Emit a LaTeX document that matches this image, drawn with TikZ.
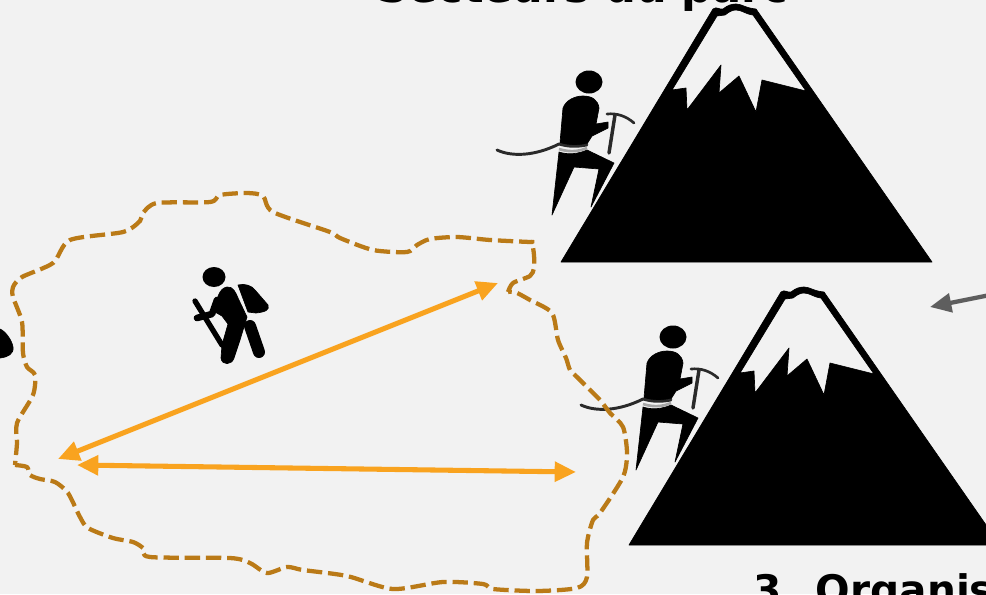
\documentclass[tikz,border=0pt]{standalone}
\usepackage{fontspec}
\setmainfont{DejaVu Sans}
\usetikzlibrary{arrows.meta}
\definecolor{bgc}{HTML}{F2F2F2}
\definecolor{trailc}{HTML}{BA7A17}
\definecolor{arrowc}{HTML}{F9A31F}
\definecolor{greyc}{HTML}{5E5E5E}
\definecolor{ropec}{HTML}{2A2A2A}
\tikzset{
  toptitle/.style={font=\bfseries\fontsize{32.3}{36}\selectfont,text=black,anchor=base west,inner sep=0pt},
  cliptitle/.style={font=\bfseries\fontsize{30.5}{36}\selectfont,text=black,anchor=base west,inner sep=0pt},
  trail/.style={draw=trailc,line width=3.2,dash pattern=on 11.5 off 4.4,line join=round},
  spanarrow/.style={draw=arrowc,line width=3.8,{Triangle[length=16,width=14.5]}-{Triangle[length=16,width=14.5]}},
  pointer/.style={draw=greyc,line width=3.2,-{Triangle[length=16,width=14]}},
  icon/.style={fill=black,draw=black,line width=0.5,line join=round},
  cord/.style={draw=ropec,line cap=round,line join=round},
  mountainicon/.pic={
    \path[icon,even odd rule]
      (561,262) -- (713,9) .. controls (717,6) and (719,10) .. (723,9)
      .. controls (728,5) and (732,4) .. (736,4) .. controls (742,4) and (745,8) .. (756,9)
      -- (932,262) -- cycle
      (717,16) .. controls (720,14) and (722,17) .. (725,15)
      .. controls (730,11) and (733,10) .. (736,10) .. controls (742,10) and (745,14) .. (753,15)
      -- (806,91) -- (762,80) -- (756,112) -- (739,76) -- (719,93) -- (721,65) -- (687,110) -- (686,88) -- (672,90) -- cycle;
  },
  climbericon/.pic={
    \fill (589,82) ellipse [x radius=13.5,y radius=11.5];
    \path[icon] (560,143) -- (563,108) .. controls (566,100) and (575,96) .. (583,96)
      .. controls (592,96) and (598,100) .. (599,108) -- (596,124) -- (608,122) -- (608,128)
      -- (592,136) -- (587,144) .. controls (578,147) and (568,147) .. (560,143) -- cycle;
    \path[icon] (559,152) .. controls (568,155) and (578,154) .. (587,150) -- (614,163)
      -- (591,207) -- (599,169) -- (574,167) -- (552,215) -- cycle;
    \draw[draw=gray!70,line width=2] (559,149) .. controls (568,152) and (578,152) .. (587,148);
    \draw[cord,line width=2.2] (497,150) .. controls (512,157) and (535,156) .. (559,144);
    \draw[cord,line width=2] (559,144) .. controls (568,147) and (578,147) .. (587,145);
    \draw[cord,line width=2.6] (609,153) -- (615,115);
    \draw[cord,line width=2] (607,114) .. controls (617,113) and (626,116) .. (634,123);
  },
}
\begin{document}
\begin{tikzpicture}[x=0.75pt,y=-0.75pt]
\useasboundingbox (0,0) rectangle (986,594);
\clip (0,0) rectangle (986,594);
\fill[bgc] (0,0) rectangle (986,594);

\pic at (0,0) {mountainicon};
\pic at (68,283) {mountainicon};
\pic at (0,0) {climbericon};
\pic at (84,255) {climbericon};

% hiker
\fill (214,277) ellipse [x radius=11.5,y radius=10];
\path[icon] (215,312) .. controls (216,300) and (219,288) .. (227,287)
  .. controls (233,286) and (236,293) .. (238,298) -- (247,317) -- (240,340) -- (234,358)
  .. controls (232,365) and (222,366) .. (221,358) -- (222,345) -- (228,324) -- (222,316) -- cycle;
\path[icon] (238,285) .. controls (245,283) and (252,286) .. (255,290) -- (268,305)
  .. controls (270,310) and (265,312) .. (256,313) -- (248,312) -- cycle;
\draw[cord,draw=black,line width=9] (250,326) -- (259,352);
\draw[cord,draw=black,line width=4] (195,301) -- (222,345);
\draw[cord,draw=black,line width=5] (197,318) -- (212,314) -- (217,300);
% figure at the left edge
\path[icon] (0,329) .. controls (5,331) and (12,340) .. (13,347)
  .. controls (14,354) and (8,357) .. (0,358) -- cycle;

% trail
\draw[trail] plot[smooth,tension=0.45] coordinates {
 (508,292) (513,283) (530,276) (534,268) (534,255) (532,242) (530,242) (490,240) (457,237) (430,239)
 (417,245) (407,252) (373,250) (340,238) (330,232) (273,212) (263,196) (247,193) (220,195)
 (210,202) (157,203) (143,213) (140,221) (123,232) (70,240) (53,263) (22,277) (13,287)
 (13,297) (22,322) (23,353) (27,367) (35,375) (33,395) (17,423) (17,443) (15,465)};
\draw[trail] plot[smooth,tension=0.45] coordinates {
 (15,465) (27,467) (30,475) (40,479) (55,482) (68,493) (80,517) (88,528) (113,538)
 (133,542) (143,548) (150,557) (230,558) (250,563) (267,573) (287,567) (303,570)
 (347,576) (393,589) (443,582) (483,584) (493,589) (537,591) (577,588) (587,577) (587,543)
 (593,520) (600,513) (623,477) (627,453) (623,427) (610,413) (600,400) (587,387)
 (577,377) (570,370) (566,358) (558,340) (552,313) (530,300) (515,292) (508,292)};

% arrows
\coordinate (longa) at (58,459);
\coordinate (longb) at (498,283);
\coordinate (flata) at (77,465);
\coordinate (flatb) at (576,472);
\coordinate (pointera) at (990,295);
\coordinate (pointerb) at (930,307);
\draw[spanarrow] (longa) -- (longb);
\draw[spanarrow] (flata) -- (flatb);
\draw[pointer] (pointera) -- (pointerb);

% cut-off titles
\node[toptitle] (titletop) at (377,2) {Secteurs du parc};
\node[cliptitle] (titlebottom) at (753,604) {3. Organis};
\end{tikzpicture}
\end{document}
